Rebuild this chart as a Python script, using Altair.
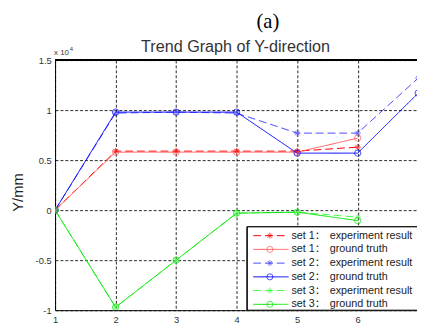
import altair as alt
import pandas as pd

# ---- data ----
steps = [1, 2, 3, 4, 5, 6, 7]
series_names = [
    "set 1 experiment result", "set 1 ground truth",
    "set 2 experiment result", "set 2 ground truth",
    "set 3 experiment result", "set 3 ground truth",
]
set1_exp = [0, 0.59, 0.59, 0.59, 0.59, 0.63, None]
set1_gt = [0, 0.58, 0.58, 0.58, 0.58, 0.72, None]
set2_exp = [0, 0.97, 0.98, 0.97, 0.77, 0.77, 1.32]
set2_gt = [0, 0.98, 0.98, 0.98, 0.57, 0.57, 1.17]
set3_exp = [0, -0.97, -0.50, -0.03, -0.02, -0.07, None]
set3_gt = [0, -0.97, -0.50, -0.03, -0.02, -0.105, None]
all_series = [set1_exp, set1_gt, set2_exp, set2_gt, set3_exp, set3_gt]

legend_set = ["set 1：", "set 1：", "set 2：", "set 2：", "set 3：", "set 3："]
legend_desc = ["experiment result", "ground truth"] * 3

y_ticks = [-1, -0.5, 0, 0.5, 1, 1.5]
x_ticks = [1, 2, 3, 4, 5, 6]

# ---- styles ----
colors = ["#ff0000", "#ff5a5a", "#4a4aff", "#0000ff", "#44ff44", "#00e600"]
dashes = [[8, 4], [1, 0], [8, 4], [1, 0], [8, 4], [1, 0]]
ASTER = "M-1,0L1,0M0,-1L0,1M-0.7,-0.7L0.7,0.7M-0.7,0.7L0.7,-0.7"
shapes = [ASTER, "circle", ASTER, "circle", ASTER, "circle"]

rows = []
for name, vals in zip(series_names, all_series):
    for xv, yv in zip(steps, vals):
        if yv is not None:
            rows.append({"step": xv, "value": yv, "series": name})
df = pd.DataFrame(rows)

W, H = 369, 255
FONT = "Liberation Sans, Arial, Noto Sans CJK SC, sans-serif"

xenc = alt.X("step:Q", scale=alt.Scale(domain=[1, 6.98], nice=False, zero=False),
             axis=alt.Axis(values=x_ticks, labelExpr="datum.value + ''", title=None,
                           grid=True, gridDash=[3, 2], gridColor="#000000", gridOpacity=0.85,
                           ticks=False, labelPadding=5, labelFontSize=9.5, labelColor="#333333",
                           labelFont=FONT, domainColor="#000000", labelFlush=False))
yenc = alt.Y("value:Q", scale=alt.Scale(domain=[-1, 1.5], nice=False, zero=False),
             axis=alt.Axis(values=y_ticks, labelExpr="datum.value + ''", title=None,
                           grid=True, gridDash=[3, 2], gridColor="#000000", gridOpacity=0.85,
                           ticks=False, labelPadding=4, labelFontSize=9.5, labelColor="#333333",
                           labelFont=FONT, domainColor="#000000", labelFlush=False))
color_enc = alt.Color("series:N", scale=alt.Scale(domain=series_names, range=colors), legend=None)
dash_enc = alt.StrokeDash("series:N", scale=alt.Scale(domain=series_names, range=dashes), legend=None)
shape_enc = alt.Shape("series:N", scale=alt.Scale(domain=series_names, range=shapes), legend=None)

base = alt.Chart(df)
lines = base.mark_line(clip=True, strokeWidth=1).encode(
    x=xenc, y=yenc, color=color_enc, strokeDash=dash_enc,
    order=alt.Order("step:Q"))
points = base.mark_point(clip=True, filled=False, strokeWidth=1, size=42).encode(
    x="step:Q", y="value:Q", color=color_enc, shape=shape_enc)

top_border = alt.Chart(df).mark_rule(color="#000000", strokeWidth=1).encode(
    x=alt.value(0), x2=alt.value(W), y=alt.value(0))

# ---- legend (drawn as marks) ----
leg_df = pd.DataFrame({
    "series": series_names,
    "set": legend_set,
    "desc": legend_desc,
    "ly": [179 + 14 * i for i in range(6)],
})
leg_box = alt.Chart(leg_df).mark_rect(fill="#ffffff", stroke="#000000", strokeWidth=1).encode(
    x=alt.value(196), x2=alt.value(400), y=alt.value(170), y2=alt.value(H))
leg_lines = alt.Chart(leg_df).mark_rule(strokeWidth=1).encode(
    x=alt.value(202), x2=alt.value(238), y=alt.Y("ly:Q", scale=None),
    color=color_enc, strokeDash=dash_enc)
leg_pts = alt.Chart(leg_df).mark_point(filled=False, strokeWidth=1, size=38).encode(
    x=alt.value(219), y=alt.Y("ly:Q", scale=None), color=color_enc, shape=shape_enc)
leg_set = alt.Chart(leg_df).mark_text(align="left", baseline="middle", fontSize=11,
                                      font=FONT, color="#222222").encode(
    x=alt.value(241), y=alt.Y("ly:Q", scale=None), text="set:N")
leg_desc = alt.Chart(leg_df).mark_text(align="left", baseline="middle", fontSize=11,
                                       font=FONT, color="#222222").encode(
    x=alt.value(280), y=alt.Y("ly:Q", scale=None), text="desc:N")

# ---- titles / annotations ----
one = pd.DataFrame({"a": [0]})
fig_label = alt.Chart(one).mark_text(text="(a)", font="Liberation Serif, Times New Roman, serif",
                                     fontSize=21, align="center", baseline="alphabetic",
                                     color="#000000").encode(x=alt.value(217), y=alt.value(-33))
title = alt.Chart(one).mark_text(text="Trend Graph of Y-direction", font=FONT, fontSize=16.5,
                                 align="center", baseline="alphabetic",
                                 color="#333333").encode(x=alt.value(184), y=alt.value(-8))
exp_x = alt.Chart(one).mark_text(text="x 10", font=FONT, fontSize=8, align="left",
                                 baseline="alphabetic", color="#333333").encode(
    x=alt.value(-1), y=alt.value(-5))
exp_4 = alt.Chart(one).mark_text(text="4", font=FONT, fontSize=6, align="left",
                                 baseline="alphabetic", color="#333333").encode(
    x=alt.value(15), y=alt.value(-9))
ylabel = alt.Chart(one).mark_text(text="Y/mm", font=FONT, fontSize=15, angle=270,
                                  align="center", baseline="middle",
                                  color="#222222").encode(x=alt.value(-38), y=alt.value(135))

chart = alt.layer(
    lines, points, top_border, leg_box, leg_lines, leg_pts, leg_set, leg_desc,
    fig_label, title, exp_x, exp_4, ylabel
).properties(
    width=W, height=H,
    autosize=alt.AutoSizeParams(type="none"),
    padding={"left": 48, "top": 50, "right": 0, "bottom": 13},
    background="#ffffff",
).configure_view(stroke=None)

chart.save("out.html", embed_options={"renderer": "svg", "actions": False})
